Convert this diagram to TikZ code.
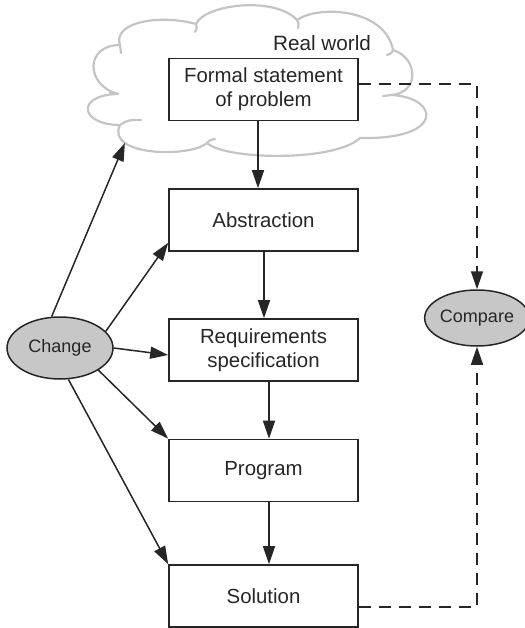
\documentclass[tikz,border=0pt]{standalone}
\usepackage{fontspec}
\setmainfont{Liberation Sans}
\usetikzlibrary{arrows.meta,shapes.geometric}
\begin{document}
\begin{tikzpicture}[x=1pt,y=-1pt,
  box/.style={draw=black!85, line width=1.6pt, minimum width=189pt, minimum height=62pt, inner sep=0pt, align=center, font=\fontsize{20.4}{24}\selectfont, text=black!85},
  oval/.style={ellipse, draw=black!85, line width=1.5pt, fill=black!22, minimum width=106pt, minimum height=62pt, inner sep=0pt, font=\fontsize{18}{22}\selectfont, text=black!85},
  arr/.style={line width=1.5pt, draw=black!85, -{Triangle[length=18pt,width=12pt]}},
  dsh/.style={line width=1.5pt, draw=black!85, dash pattern=on 12pt off 8pt, -{Triangle[length=18pt,width=12pt]}},
  cloudline/.style={draw=black!23, line width=2.2pt, line join=round, line cap=round}
]
\useasboundingbox (0,0) rectangle (524,628);
% cloud
\draw[cloudline] (120,45)
 .. controls (112,22) and (160,14) .. (196,24)
 .. controls (205,4) and (275,-4) .. (297,20)
 .. controls (318,5) and (385,8) .. (393,50)
 .. controls (418,58) and (420,92) .. (392,95)
 .. controls (440,98) and (445,140) .. (360,138)
 .. controls (335,162) and (225,160) .. (207,143)
 .. controls (190,158) and (105,156) .. coordinate[pos=0.75] (cl) (120,125)
 .. controls (80,125) and (75,95) .. (118,94)
 .. controls (85,85) and (85,45) .. (120,45);
% small curls at the cusps of the cloud
\draw[cloudline] (120,45) .. controls (121,49) .. (121,53);
\draw[cloudline] (196,24) .. controls (197,28) .. (195,32);
\draw[cloudline] (297,20) .. controls (299,24) .. (298,28);
\draw[cloudline] (393,50) .. controls (392,53) .. (387,55);
\draw[cloudline] (392,95) .. controls (388,95) .. (383,96);
\draw[cloudline] (207,143) .. controls (210,140) .. (215,139);
\draw[cloudline] (120,125) .. controls (128,120) .. (141,120);
\draw[cloudline] (118,94) .. controls (114,94) .. (110,93);
\node[font=\fontsize{20.7}{24}\selectfont, text=black!85] (rw) at (322,43) {Real world};
% boxes
\node[box] (F) at (263.5,89.5) {Formal statement\\of problem};
\node[box] (A) at (263.5,220) {Abstraction};
\node[box] (R) at (263.5,350) {Requirements\\specification};
\node[box] (P) at (263.5,470.5) {Program};
\node[box] (S) at (263.5,596) {Solution};
% ovals
\node[oval] (chg) at (60,348) {Change};
\node[oval, minimum width=96pt, minimum height=56pt] (cmp) at (477,318) {Compare};
% main chain
\draw[arr] ([xshift=-5.5pt]F.south) -- ([xshift=-5.5pt]A.north);
\draw[arr] ([xshift=0.5pt]A.south) -- ([xshift=0.5pt]R.north);
\draw[arr] ([xshift=5.5pt]R.south) -- ([xshift=5.5pt]P.north);
\draw[arr] ([xshift=5.5pt]P.south) -- ([xshift=5.5pt]S.north);
% change arrows
\draw[arr] (chg.105) -- (cl);
\draw[arr] (chg.20) -- ([yshift=9pt]A.south west);
\draw[arr] (chg.east) -- ([yshift=-5pt]R.west);
\draw[arr] (chg.-30) -- (P.north west);
\draw[arr] (chg.-75) -- (S.north west);
% compare
\draw[dsh] ([yshift=5.5pt]F.east) -| (cmp.north);
\draw[dsh] ([yshift=-11pt]S.east) -| (cmp.south);
\end{tikzpicture}
\end{document}
